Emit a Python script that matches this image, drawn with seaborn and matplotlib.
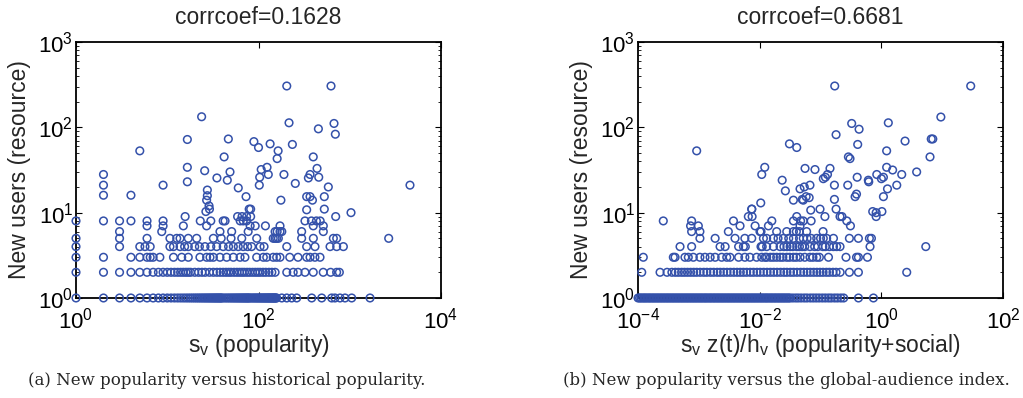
import numpy as np
import pandas as pd
import matplotlib
matplotlib.use("Agg")
import matplotlib.pyplot as plt
import seaborn as sns
from matplotlib.ticker import LogLocator, NullLocator, FixedLocator

# ---------------- data: left panel (historical popularity s_v) ----------------
left_row_y1 = [1, 2, 3, 4, 5, 6,
               7, 8, 9, 10, 11, 12, 13, 14, 15, 16, 17, 18, 19, 20, 21, 22, 23, 24, 25,
               26, 27, 28, 29, 30, 31, 32, 33, 34, 35, 36, 37, 38, 39, 40,
               42, 44, 46, 48, 50, 52, 54, 56, 58, 60, 62, 64, 66, 68, 70, 72, 74, 76,
               78, 80, 83, 86, 89, 92, 95, 98, 101, 104, 107, 110, 113, 116, 119, 122,
               125, 128, 131, 134, 137, 140, 143, 146, 149, 152, 155, 158,
               180, 204, 231, 262, 383, 493, 634, 689, 782, 887, 1050, 1667]
left_row_y2 = [1, 2, 3, 4, 5, 6, 7, 8, 9, 10, 11, 12, 13, 14, 15, 16, 17, 18, 20, 22,
               24, 26, 29, 32, 35, 38, 41, 44, 47, 50, 54, 58, 62, 66, 70, 75, 80, 86,
               92, 98, 104, 112, 120, 130, 140, 152, 204, 240, 271, 323, 398, 512, 617,
               718, 769]
left_row_y3 = [1, 2, 4, 5, 6, 6.5, 7, 8.3, 11.7, 14.4, 17, 22.8, 27, 29.4, 32, 37.8,
               44.8, 53, 62.8, 71, 95.5, 113, 123, 145, 158, 172, 220, 271, 337, 367,
               415, 472]
left_row_y4 = [1, 3, 5, 5.7, 6.5, 10.7, 11.7, 13.8, 15.5, 17, 20, 22.5, 25.9, 30, 34.8,
               41, 47, 53, 60, 68, 76, 84, 104, 115, 204, 337, 416, 608, 719, 851]
left_row_y5 = [1, 3, 6, 10.7, 12.7, 13.8, 17, 21, 32, 39, 50, 65.5, 95.5, 145, 152, 158,
               165, 297, 399, 661, 719]
left_row_y6 = [3, 8.7, 37.8, 50.8, 77, 152, 160, 172, 180, 297, 513]
left_row_y7 = [6, 9, 15, 27, 81, 92, 119, 172, 398, 513]
left_row_y8 = [1, 2, 3, 4, 6, 9, 23, 30, 41, 43, 63, 68, 74, 323, 380, 431, 474]
left_row_y9 = [15.7, 59, 66, 74, 82, 701]
left_other_x = [204, 623, 23.8, 216, 672, 453, 695, 5, 16.6, 46.7, 89, 100, 134, 235, 164,
                160, 42, 398, 2, 2, 2, 4, 9, 16.6, 16.6, 25.7, 35, 45.5, 48.7, 60, 73, 79,
                102, 103, 107, 124, 128, 176, 190, 253, 352, 367, 438, 457, 582, 4570,
                27.5, 27.5, 27, 28.7, 29, 26.5, 82, 337, 367, 390, 337, 526, 526, 1032,
                2670]
left_other_y = [305, 305, 133, 113, 111, 96, 83, 53, 72, 73, 68, 58, 64, 63, 53,
                43, 45, 45, 28, 21, 16, 16, 21, 34, 23, 31, 25.5, 24, 30, 19.5, 15.4, 11,
                21, 26, 32, 34, 28, 14, 28, 22, 25.5, 28, 33, 26, 20, 21,
                18.4, 15.8, 14, 12, 11, 10.3, 11, 15.4, 15.4, 14, 10.8, 15.4, 11, 10,
                5]

# ---------------- data: right panel (global-audience index) ----------------
right_row_y1 = [1.00e-4, 1.06e-4, 1.12e-4, 1.19e-4, 1.26e-4, 1.33e-4, 1.41e-4, 1.50e-4,
                1.58e-4, 1.68e-4, 1.78e-4, 1.88e-4, 2.00e-4, 2.11e-4, 2.24e-4, 2.37e-4,
                2.51e-4, 2.66e-4, 2.82e-4, 2.99e-4, 3.16e-4, 3.35e-4, 3.55e-4, 3.76e-4,
                3.98e-4, 4.22e-4, 4.47e-4, 4.73e-4, 5.01e-4, 5.31e-4, 5.62e-4, 5.96e-4,
                6.31e-4, 6.68e-4, 7.08e-4, 7.50e-4, 7.94e-4, 8.41e-4, 8.91e-4, 9.44e-4,
                1.00e-3, 1.06e-3, 1.12e-3, 1.19e-3, 1.26e-3, 1.33e-3, 1.41e-3, 1.50e-3,
                1.58e-3, 1.68e-3, 1.78e-3, 1.88e-3, 2.00e-3, 2.11e-3, 2.24e-3, 2.37e-3,
                2.51e-3, 2.66e-3, 2.82e-3, 2.99e-3, 3.16e-3, 3.35e-3, 3.55e-3, 3.76e-3,
                3.98e-3, 4.22e-3, 4.47e-3, 4.73e-3, 5.01e-3, 5.31e-3, 5.62e-3, 5.96e-3,
                6.31e-3, 6.68e-3, 7.08e-3, 7.50e-3, 7.94e-3, 8.41e-3, 8.91e-3, 9.44e-3,
                1.00e-2, 1.06e-2, 1.12e-2, 1.19e-2, 1.26e-2, 1.33e-2, 1.41e-2, 1.50e-2,
                1.58e-2, 1.68e-2, 1.78e-2, 1.88e-2, 2.00e-2, 2.11e-2, 2.24e-2, 2.37e-2,
                2.51e-2, 2.66e-2, 2.82e-2, 2.99e-2, 3.16e-2, 3.5e-2, 3.9e-2, 4.3e-2,
                4.8e-2, 5.4e-2, 6.0e-2, 6.8e-2, 7.6e-2, 8.5e-2, 9.5e-2, 0.107, 0.12,
                0.135, 0.15, 0.17, 0.19, 0.215, 0.24, 0.42, 0.74]
right_row_y2 = [1.15e-4, 2.3e-4, 3.0e-4, 3.6e-4, 4.1e-4, 4.6e-4, 5.2e-4, 5.8e-4, 6.5e-4,
                7.3e-4, 8.2e-4, 9.2e-4, 1.05e-3, 1.2e-3, 1.35e-3, 1.55e-3, 1.75e-3, 2.0e-3,
                2.25e-3, 2.55e-3, 2.9e-3, 3.3e-3, 3.75e-3, 4.25e-3, 4.8e-3, 5.4e-3, 6.1e-3,
                7.0e-3, 7.9e-3, 9.0e-3, 0.0102, 0.0116, 0.0132, 0.015, 0.017, 0.0193, 0.022,
                0.025, 0.028, 0.032, 0.036, 0.041, 0.047, 0.053, 0.06, 0.068, 0.077, 0.087,
                0.098, 0.11, 0.125, 0.14, 0.16, 0.18, 0.21, 0.298, 0.419, 2.61]
right_row_y3 = [1.22e-4, 3.8e-4, 4.06e-4, 5.9e-4, 6.7e-4, 8.1e-4, 1.04e-3, 1.26e-3,
                1.53e-3, 1.85e-3, 2.37e-3, 2.87e-3, 3.25e-3, 4.5e-3, 5.7e-3, 6.9e-3, 8.9e-3,
                0.0108, 0.0123, 0.013, 0.015, 0.0168, 0.019, 0.0216, 0.024, 0.0278, 0.031,
                0.0358, 0.04, 0.046, 0.055, 0.067, 0.075, 0.0865, 0.0957, 0.135, 0.262,
                0.39, 0.419, 0.59]
right_row_y4 = [4.9e-4, 7.6e-4, 2.23e-3, 2.7e-3, 4.5e-3, 5.4e-3, 5.8e-3, 0.0105, 0.011,
                0.013, 0.0168, 0.0216, 0.025, 0.028, 0.0316, 0.035, 0.0406, 0.045, 0.05,
                0.055, 0.067, 0.08, 0.09, 0.109, 0.12, 0.14, 0.163, 0.184, 0.209, 0.651,
                5.37]
right_row_y5 = [1.04e-3, 1.85e-3, 3.93e-3, 5.7e-3, 7.4e-3, 0.0115, 0.013, 0.0168, 0.02,
                0.0245, 0.03, 0.0358, 0.045, 0.052, 0.06, 0.07, 0.0865, 0.1, 0.111, 0.126,
                0.163, 0.298, 0.419, 0.635, 0.686]
right_row_y6 = [7.6e-4, 1.04e-3, 3.05e-3, 0.0101, 0.0105, 0.019, 0.0278, 0.0358, 0.04,
                0.045, 0.059, 0.11]
right_row_y7 = [7.3e-4, 9.8e-4, 4.75e-3, 8.4e-3, 0.0139, 0.046, 0.31]
right_row_y8 = [2.6e-4, 7.6e-4, 3.7e-3, 0.0158, 0.0358, 0.047, 0.052, 0.07, 0.27]
right_row_y9 = [6.5e-3, 7.5e-3, 0.0406, 0.118, 0.209, 0.225, 0.82]
right_other_x = [0.171, 29.4, 9.5, 1.3, 0.325, 0.43, 0.18, 2.45, 6.6, 7.0, 9.2e-4, 0.0308,
                 0.0406, 0.408, 1.22, 6.3, 0.287, 0.305, 0.0121, 0.0108, 0.081, 0.143, 0.13,
                 0.12, 0.0234, 0.4, 0.61, 0.84, 1.08, 1.22, 1.53, 2.16, 3.8, 0.0264, 0.0104,
                 0.0074, 0.0556, 0.111, 0.169, 0.169, 0.28, 0.37, 0.39, 0.62, 1.0, 1.08,
                 1.26, 1.79, 0.72, 0.82, 1.02, 0.046, 0.054, 0.067, 0.058, 0.065, 0.052,
                 0.069, 0.098, 0.18, 0.0358, 0.05, 7.4e-3]
right_other_y = [305, 305, 132, 113, 111, 95, 82, 69, 73, 73, 53, 64,
                 58, 63, 53, 45, 45, 43, 34, 28, 32, 33, 28,
                 26, 24, 26, 24, 28, 26, 34, 31.6, 28, 30, 18, 13,
                 11, 33, 25, 21, 14.3, 21, 15.4, 16.5, 23, 25, 15.4,
                 19, 21, 10.3, 10, 10.3, 19, 20, 21, 15.4, 15, 14,
                 10.7, 11, 11, 14, 14.3, 11]

titles = ["corrcoef=0.1628", "corrcoef=0.6681"]
xlabels = [r"$\mathregular{s_v}$ (popularity)",
           r"$\mathregular{s_v\ z(t)/h_v}$ (popularity+social)"]
ylabel = "New users (resource)"
captions = ["(a) New popularity versus historical popularity.",
            "(b) New popularity versus the global-audience index."]
xlims = [(1, 1e4), (1e-4, 1e2)]
xticks = [[1, 1e2, 1e4], [1e-4, 1e-2, 1, 1e2]]
yticks = [1, 10, 100, 1000]


def build(rows, other_x, other_y):
    xs, ys = [], []
    for level, row in enumerate(rows, start=1):
        xs += list(row)
        ys += [level] * len(row)
    xs += list(other_x)
    ys += list(other_y)
    return pd.DataFrame({"x": xs, "y": ys})


df_left = build([left_row_y1, left_row_y2, left_row_y3, left_row_y4, left_row_y5,
                 left_row_y6, left_row_y7, left_row_y8, left_row_y9],
                left_other_x, left_other_y)
df_right = build([right_row_y1, right_row_y2, right_row_y3, right_row_y4, right_row_y5,
                  right_row_y6, right_row_y7, right_row_y8, right_row_y9],
                 right_other_x, right_other_y)

sns.set_theme(style="white")
plt.rcParams["font.family"] = ["Liberation Sans", "DejaVu Sans"]
plt.rcParams["mathtext.fontset"] = "custom"
plt.rcParams["mathtext.rm"] = "Liberation Sans"
plt.rcParams["mathtext.it"] = "Liberation Sans:italic"

blue = "#3451aa"
fig = plt.figure(figsize=(10.23, 3.98), dpi=100)
positions = [[0.0743, 0.2513, 0.3568, 0.6432], [0.6237, 0.2513, 0.3568, 0.6432]]
caption_x = [0.222, 0.769]

for i, df in enumerate([df_left, df_right]):
    ax = fig.add_axes(positions[i])
    sns.scatterplot(data=df, x="x", y="y", ax=ax, marker="o", s=30,
                    color=blue, facecolor="none", edgecolor=blue, linewidth=1.1,
                    clip_on=False, legend=False, zorder=3)
    ax.set_xscale("log")
    ax.set_yscale("log")
    ax.set_xlim(*xlims[i])
    ax.set_ylim(1, 1000)
    ax.xaxis.set_major_locator(FixedLocator(xticks[i]))
    ax.xaxis.set_minor_locator(NullLocator())
    ax.yaxis.set_major_locator(FixedLocator(yticks))
    ax.yaxis.set_minor_locator(LogLocator(base=10, subs=np.arange(2, 10)))
    ax.tick_params(which="both", direction="in", top=True, right=True,
                   bottom=True, left=True, colors="black", labelsize=16)
    ax.tick_params(which="major", length=4, width=0.8)
    ax.tick_params(which="minor", length=2, width=0.6)
    ax.tick_params(axis="x", which="major", pad=7)
    ax.tick_params(axis="y", which="major", pad=2)
    for sp in ax.spines.values():
        sp.set_linewidth(1.3)
        sp.set_color("black")
    ax.set_title(titles[i], fontsize=16.5, pad=13)
    ax.set_xlabel(xlabels[i], fontsize=16.5, labelpad=-1)
    ax.set_ylabel(ylabel, fontsize=16.5, labelpad=5)
    ax.set_facecolor("white")
    fig.text(caption_x[i], 0.043, captions[i], ha="center", va="center",
             fontsize=12, family="DejaVu Serif")

fig.savefig("out.png", dpi=100, facecolor="white")
